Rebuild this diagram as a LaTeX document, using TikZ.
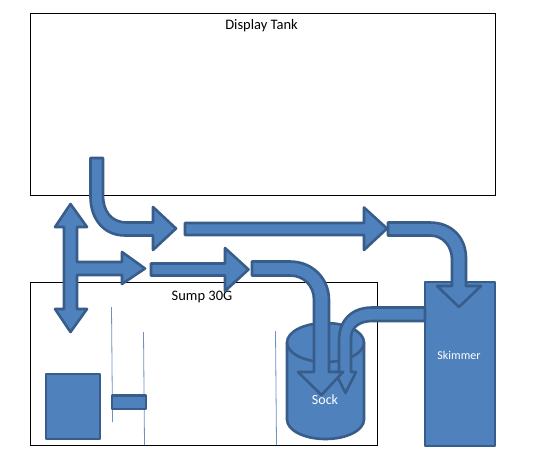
\documentclass[tikz,border=0pt]{standalone}
\usepackage{fontspec}
\setmainfont{Carlito}
\definecolor{shapefill}{HTML}{4F81BD}
\definecolor{shapeline}{HTML}{385D8A}
\definecolor{baffle}{HTML}{6F93BE}
\tikzset{
  tank/.style={draw=black,line width=0.9pt},
  solid shape/.style={fill=shapefill,draw=shapeline,line width=2.6pt,line join=round},
  baffle line/.style={draw=baffle,line width=0.8pt},
  dark label/.style={text=black,font=\fontsize{14.5}{16}\selectfont,inner sep=0pt},
  light label/.style={text=white,inner sep=0pt},
}
\begin{document}
\begin{tikzpicture}[x=1pt,y=-1pt]
\useasboundingbox (0,0) rectangle (534,472);
\fill[white] (0,0) rectangle (534,472);
% tanks
\draw[tank] (30,13) rectangle (495,195);
\draw[tank] (30,282) rectangle (377,445);
\node[dark label] (display) at (261.5,26) {Display Tank};
\node[dark label] (sump) at (202,296.5) {Sump 30G};
% baffles
\draw[baffle line] (111.5,307) -- (112.5,422);
\draw[baffle line] (143.5,332) -- (144.5,445);
\draw[baffle line] (275.5,331) -- (276.5,445);
% pump and small block
\draw[solid shape] (46,374) rectangle (100,439);
\draw[solid shape] (112,395.5) rectangle (146,409);
% skimmer
\draw[solid shape] (425,282) rectangle (495,446);
\node[light label,font=\fontsize{12}{14}\selectfont] (skimmer) at (459,355) {Skimmer};
% sock cylinder
\draw[solid shape] (287,342.5) -- (287,419.5) .. controls (287,430.3) and (304.2,439) .. (325.5,439) .. controls (346.8,439) and (364,430.3) .. (364,419.5) -- (364,342.5) .. controls (364,331.7) and (346.8,323) .. (325.5,323) .. controls (304.2,323) and (287,331.7) .. (287,342.5) -- cycle;
\draw[shapeline,line width=2.6pt] (287,342.5) .. controls (287,353.3) and (304.2,362) .. (325.5,362) .. controls (346.8,362) and (364,353.3) .. (364,342.5);
% return from skimmer to sock
\draw[solid shape] (425,307.5) -- (372,307.5) .. controls (352,307.5) and (339,320) .. (339,340) -- (339,372) -- (335,372) -- (345.5,393) -- (356,372) -- (351,372) -- (351,338) .. controls (351,327) and (360,321) .. (372,321) -- (425,321) -- cycle;
% overflow to sock
\draw[solid shape] (252,261.5) -- (290,261.5) .. controls (312,261.5) and (329,278) .. (329,300) -- (329,372) -- (343,372) -- (321.5,395) -- (298,372) -- (314,372) -- (314,300) .. controls (314,286) and (304,275.5) .. (290,275.5) -- (252,275.5) -- cycle;
\node[light label,font=\fontsize{14}{16}\selectfont] (sock) at (325,399.5) {Sock};
% drain out of display
\draw[solid shape] (90.5,158) -- (103,158) -- (103,195) .. controls (103,211) and (111,222.5) .. (127,222.5) -- (153,222.5) -- (153,207) -- (176,228.5) -- (153,250) -- (153,235.5) -- (125,235.5) .. controls (103,235.5) and (90.5,218) .. (90.5,197) -- cycle;
% upper straight
\draw[solid shape] (185,223) -- (364,223) -- (364,207.5) -- (387,228.5) -- (364,250) -- (364,235) -- (185,235) -- cycle;
% upper bend into skimmer
\draw[solid shape] (388,222.5) -- (430,222.5) .. controls (452,222.5) and (466,238) .. (466,258) -- (466,286) -- (481,286) -- (459,307) -- (437,286) -- (452,286) -- (452,260) .. controls (452,246) and (443,235.5) .. (430,235.5) -- (388,235.5) -- cycle;
% T double arrow
\draw[solid shape] (70.5,204) -- (87,227) -- (77,227) -- (77,262) -- (122,262) -- (122,252) -- (145,268.5) -- (122,284) -- (122,275) -- (77,275) -- (77,309) -- (87,309) -- (70.5,332) -- (55,309) -- (64,309) -- (64,227) -- (55,227) -- cycle;
% lower straight
\draw[solid shape] (151,263.5) -- (225,263.5) -- (225,248) -- (248.5,269.5) -- (225,291) -- (225,275.5) -- (151,275.5) -- cycle;
\end{tikzpicture}
\end{document}
